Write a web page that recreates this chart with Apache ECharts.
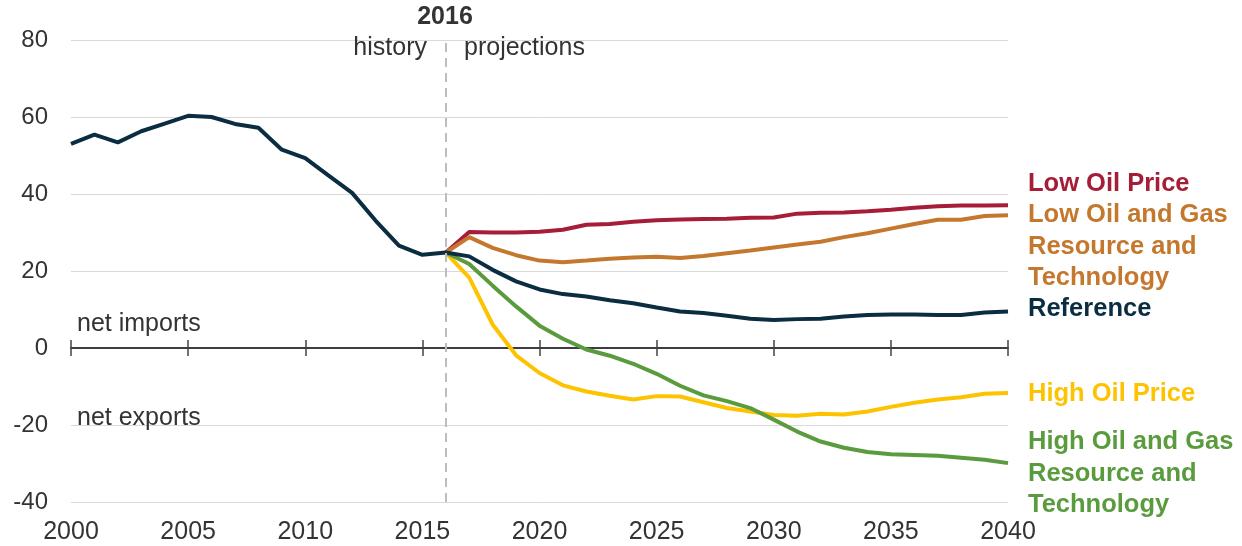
<!DOCTYPE html>
<html lang="en">
<head>
  <meta charset="UTF-8">
  <title>Net imports by case</title>
  <style>
    html, body { margin: 0; padding: 0; background: #fff; }
  </style>
</head>
<body>
  <div id="main" style="width: 1242px; height: 546px"></div>
  <script src="https://cdn.jsdelivr.net/npm/echarts@6/dist/echarts.min.js"></script>
  <script>
    // history, 2000-2016
    const histYears = [2000, 2001, 2002, 2003, 2004, 2005, 2006, 2007, 2008, 2009, 2010, 2011, 2012, 2013, 2014, 2015, 2016];
    const histValues = [53.0, 55.4, 53.4, 56.3, 58.3, 60.3, 60.0, 58.2, 57.2, 51.5, 49.3, 44.8, 40.3, 33.1, 26.6, 24.2, 24.8];

    // projections, 2016-2040
    const projYears = [2016, 2017, 2018, 2019, 2020, 2021, 2022, 2023, 2024, 2025, 2026, 2027, 2028,
      2029, 2030, 2031, 2032, 2033, 2034, 2035, 2036, 2037, 2038, 2039, 2040];
    const reference = [24.8, 23.8, 20.3, 17.3, 15.2, 14.0, 13.4, 12.4, 11.6, 10.5, 9.5, 9.1, 8.4,
      7.6, 7.3, 7.5, 7.6, 8.2, 8.6, 8.7, 8.7, 8.6, 8.6, 9.2, 9.5];
    const lowOilPrice = [24.8, 30.1, 30.0, 30.0, 30.2, 30.7, 32.0, 32.2, 32.8, 33.2, 33.4, 33.5, 33.6,
      33.8, 33.9, 34.9, 35.1, 35.2, 35.5, 35.9, 36.4, 36.8, 37.0, 37.0, 37.1];
    const lowResource = [24.8, 28.8, 26.0, 24.1, 22.7, 22.3, 22.7, 23.2, 23.5, 23.7, 23.4, 23.9, 24.6,
      25.3, 26.1, 26.9, 27.6, 28.8, 29.8, 31.0, 32.2, 33.3, 33.3, 34.3, 34.5];
    const highOilPrice = [24.8, 18.3, 6.1, -1.9, -6.5, -9.7, -11.3, -12.4, -13.4, -12.5, -12.6, -14.1, -15.6,
      -16.5, -17.4, -17.6, -17.1, -17.3, -16.5, -15.3, -14.2, -13.4, -12.8, -11.9, -11.7];
    const highResource = [24.8, 21.8, 16.2, 10.8, 5.8, 2.4, -0.4, -2.0, -4.1, -6.7, -9.8, -12.3, -13.8,
      -15.6, -18.6, -21.7, -24.3, -25.9, -27.0, -27.6, -27.8, -28.0, -28.5, -29.0, -29.9];

    const yTicks = [-40, -20, 0, 20, 40, 60, 80];
    const splitYear = 2016;

    const FONT = '"Liberation Sans", Arial, sans-serif';
    const TXT = '#333333';

    function pairs(xs, ys) {
      return xs.map((x, i) => [x, ys[i]]);
    }

    function lineSeries(name, color, data, extra) {
      return Object.assign({
        name: name,
        type: 'line',
        data: data,
        showSymbol: false,
        symbol: 'none',
        lineStyle: { color: color, width: 4 },
        itemStyle: { color: color },
        z: 3
      }, extra || {});
    }

    function label(text, x, y, font, fill, align) {
      return {
        type: 'text', x: x, y: y, z: 10,
        style: { text: text, font: font, fill: fill, align: align || 'left', verticalAlign: 'middle', lineHeight: 31.5 }
      };
    }

    const xBase = { type: 'value', min: 2000, max: 2040, interval: 5, splitLine: { show: false } };
    const yBase = {
      type: 'value',
      min: yTicks[0],
      max: yTicks[yTicks.length - 1],
      interval: 20
    };

    let myChart = echarts.init(document.getElementById('main'));
    let option = {
      animation: false,
      grid: { left: 71, right: 234, top: 40, bottom: 44, containLabel: false },
      xAxis: [
        // labels at bottom
        Object.assign({}, xBase, {
          position: 'bottom',
          axisLine: { show: false, onZero: false },
          axisTick: { show: false },
          axisLabel: { fontSize: 25, color: TXT, fontFamily: FONT, margin: 18, formatter: v => String(v) }
        }),
        // zero line, ticks down
        Object.assign({}, xBase, {
          position: 'bottom',
          axisLine: { show: true, onZero: true, onZeroAxisIndex: 0, lineStyle: { color: '#333', width: 1.5 } },
          axisTick: { show: true, inside: false, length: 8, lineStyle: { color: '#444', width: 1.5 } },
          axisLabel: { show: false }
        }),
        // zero line, ticks up (rides on the hidden second y axis)
        Object.assign({}, xBase, {
          position: 'bottom',
          axisLine: { show: true, onZero: true, onZeroAxisIndex: 1, lineStyle: { color: '#333', width: 1.5 } },
          axisTick: { show: true, inside: true, length: 8, lineStyle: { color: '#444', width: 1.5 } },
          axisLabel: { show: false }
        })
      ],
      yAxis: [
        Object.assign({}, yBase, {
          axisLine: { show: false },
          axisTick: { show: false },
          axisLabel: { fontSize: 24, color: TXT, fontFamily: FONT, margin: 23 },
          splitLine: { lineStyle: { color: '#d9d9d9', width: 1 } }
        }),
        Object.assign({}, yBase, {
          show: true,
          axisLine: { show: false, onZero: false },
          axisTick: { show: false },
          axisLabel: { show: false },
          splitLine: { show: false }
        })
      ],
      series: [
        lineSeries('Low Oil Price', '#a51d36', pairs(projYears, lowOilPrice)),
        lineSeries('Low Oil and Gas Resource and Technology', '#c4782d', pairs(projYears, lowResource)),
        lineSeries('High Oil Price', '#fdc300', pairs(projYears, highOilPrice)),
        lineSeries('High Oil and Gas Resource and Technology', '#5a9b3e', pairs(projYears, highResource)),
        lineSeries('Reference', '#0b2d42',
          pairs(histYears, histValues).concat(pairs(projYears.slice(1), reference.slice(1))), {
            z: 4,
            markLine: {
              silent: true,
              symbol: 'none',
              animation: false,
              label: { show: false },
              lineStyle: { color: '#bdbdbd', type: [9, 6], width: 2 },
              data: [{ xAxis: splitYear }]
            }
          })
      ],
      graphic: [
        label('2016', 445, 17.5, 'bold 25px ' + FONT, TXT, 'center'),
        label('history', 427, 48, '25px ' + FONT, TXT, 'right'),
        label('projections', 464, 48, '25px ' + FONT, TXT),
        label('net imports', 77, 324, '25px ' + FONT, TXT),
        label('net exports', 77, 418, '25px ' + FONT, TXT),

        label('Low Oil Price', 1028, 184, 'bold 25.5px ' + FONT, '#a51d36'),
        label('Low Oil and Gas\nResource and\nTechnology', 1028, 246.5, 'bold 25.5px ' + FONT, '#c4782d'),
        label('Reference', 1028, 309, 'bold 25.5px ' + FONT, '#0b2d42'),
        label('High Oil Price', 1028, 393.5, 'bold 25.5px ' + FONT, '#fdc300'),
        label('High Oil and Gas\nResource and\nTechnology', 1028, 473.5, 'bold 25.5px ' + FONT, '#5a9b3e')
      ]
    };
    myChart.setOption(option);
  </script>
</body>
</html>
